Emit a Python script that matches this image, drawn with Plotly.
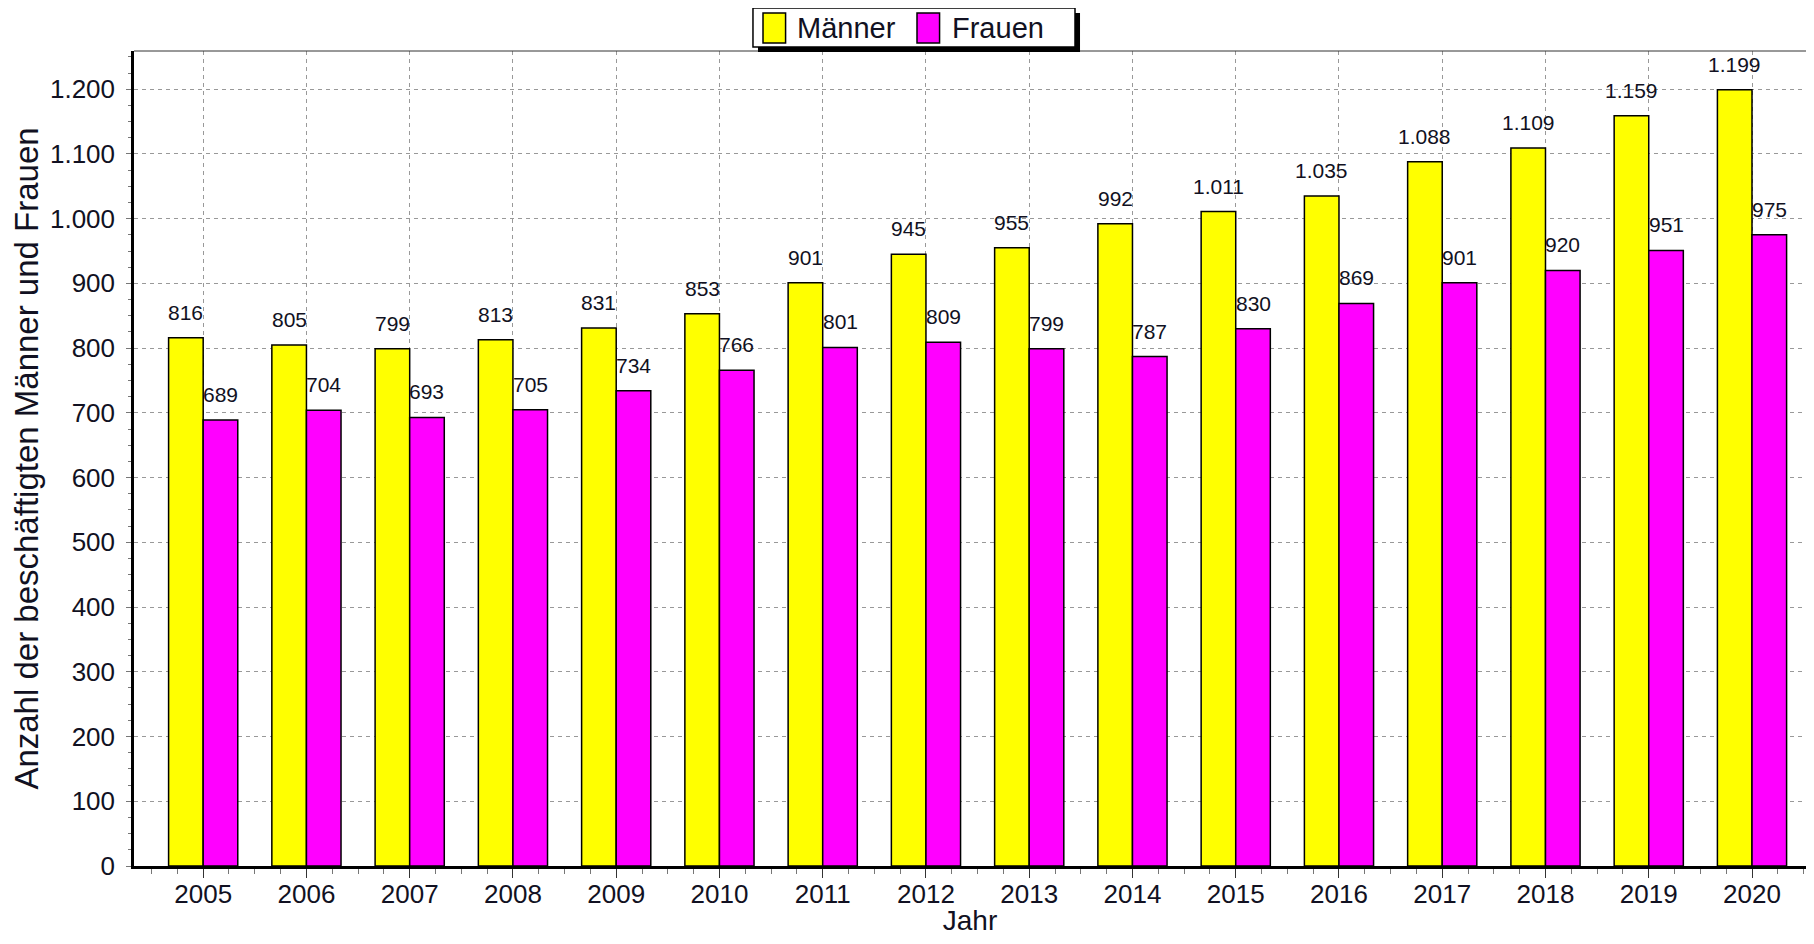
import plotly.graph_objects as go

years = [2005, 2006, 2007, 2008, 2009, 2010, 2011, 2012, 2013, 2014, 2015, 2016, 2017, 2018, 2019, 2020]
maenner = [816, 805, 799, 813, 831, 853, 901, 945, 955, 992, 1011, 1035, 1088, 1109, 1159, 1199]
frauen = [689, 704, 693, 705, 734, 766, 801, 809, 799, 787, 830, 869, 901, 920, 951, 975]
series_names = ["Männer", "Frauen"]
series_colors = ["#FFFF00", "#FF00FF"]

FONT = "Arial, Liberation Sans, sans-serif"
TXT = "#111122"
BAR_GAP = 0.33
half = (1 - BAR_GAP) / 4  # center offset of each bar within its group


def fmt(v):
    return f"{v:,}".replace(",", ".")


fig = go.Figure()
for name, vals, col in zip(series_names, [maenner, frauen], series_colors):
    fig.add_trace(go.Bar(x=years, y=vals, name=name, showlegend=False,
                         marker=dict(color=col, line=dict(color="black", width=1.5))))

annotations = []
for yr, m, f in zip(years, maenner, frauen):
    annotations.append(dict(x=yr - half, y=m, xref="x", yref="y", text=fmt(m), showarrow=False,
                            yanchor="bottom", yshift=12, font=dict(family=FONT, size=21, color=TXT)))
    annotations.append(dict(x=yr + half, y=f, xref="x", yref="y", text=fmt(f), showarrow=False,
                            yanchor="bottom", yshift=12, font=dict(family=FONT, size=21, color=TXT)))

# Legend box drawn in paper coordinates (styling only)
shapes = [
    dict(type="line", xref="paper", yref="paper", x0=0, x1=1, y0=1, y1=1,
         line=dict(color="#333333", width=1)),
    # shadow
    dict(type="rect", xref="paper", yref="paper", x0=0.3732, x1=0.5658, y0=0.9988, y1=1.0466,
         fillcolor="black", line=dict(width=0)),
    # box
    dict(type="rect", xref="paper", yref="paper", x0=0.3702, x1=0.5628, y0=1.0049, y1=1.0528,
         fillcolor="white", line=dict(color="black", width=1.5)),
]
leg_sq_x = [0.3762, 0.4683]
leg_txt_x = [0.3953, 0.4880]
for name, col, sx, tx in zip(series_names, series_colors, leg_sq_x, leg_txt_x):
    shapes.append(dict(type="rect", xref="paper", yref="paper", x0=sx, x1=sx + 0.0135,
                       y0=1.0098, y1=1.0466, fillcolor=col, line=dict(color="black", width=1.5)))
    annotations.append(dict(x=tx, y=1.0282, xref="paper", yref="paper", text=name, showarrow=False,
                            xanchor="left", yanchor="middle",
                            font=dict(family=FONT, size=29, color=TXT)))

fig.update_layout(
    width=1798, height=928,
    margin=dict(l=126, r=0, t=43, b=70, autoexpand=False),
    paper_bgcolor="white", plot_bgcolor="white",
    separators=",.",
    barmode="group", bargap=BAR_GAP, bargroupgap=0,
    font=dict(family=FONT, color=TXT),
    annotations=annotations,
    shapes=shapes,
    showlegend=False,
)

fig.update_xaxes(
    range=[2004.33, 2020.523],
    tickmode="array", tickvals=years, ticktext=[str(y) for y in years],
    ticks="outside", ticklen=9, tickcolor="#333333", tickwidth=1,
    ticklabelstandoff=-6,
    minor=dict(dtick=0.25, tick0=2005, ticks="outside", ticklen=5, tickcolor="#777777", showgrid=False),
    showgrid=True, gridcolor="#999999", griddash="4px,4px", gridwidth=1,
    showline=True, linecolor="black", linewidth=2.5,
    tickfont=dict(family=FONT, size=26, color=TXT),
    title=dict(text="Jahr", font=dict(family=FONT, size=28, color=TXT), standoff=7),
    zeroline=False,
)

fig.update_yaxes(
    range=[0, 1259],
    tickmode="linear", tick0=0, dtick=100,
    tickformat=",d",
    ticks="outside", ticklen=5, tickcolor="#777777", tickwidth=1,
    ticklabelstandoff=6,
    minor=dict(dtick=25, ticks="outside", ticklen=3, tickcolor="#777777", showgrid=False),
    showgrid=True, gridcolor="#999999", griddash="4px,4px", gridwidth=1,
    showline=True, linecolor="black", linewidth=2.5,
    tickfont=dict(family=FONT, size=26, color=TXT),
    title=dict(text="Anzahl der beschäftigten Männer und Frauen",
               font=dict(family=FONT, size=33, color=TXT), standoff=7),
    zeroline=False,
)

fig.write_html("out.html")
